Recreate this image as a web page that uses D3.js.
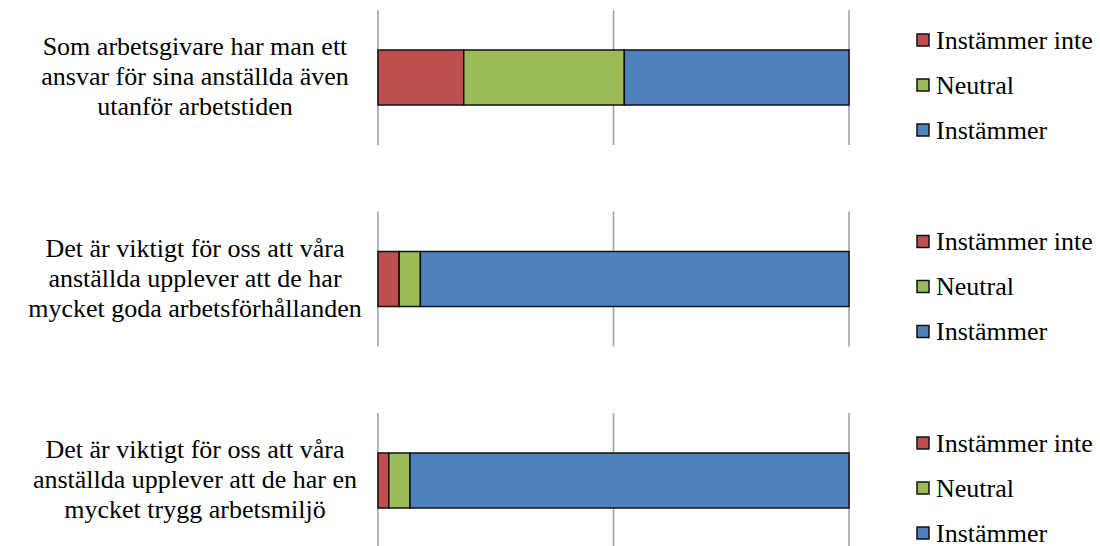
<!DOCTYPE html>
<html>
<head>
<script src="https://cdn.jsdelivr.net/npm/d3@7"></script>
</head>
<body style="margin:0">
<svg id="chart" width="1100" height="546"></svg>
<script>
// Serif faces for all chart text, first available wins
const fontStack = ["Liberation Serif", "Times New Roman", "Tinos", "FreeSerif"];
const fontSize = 26;

// Statements (each split into the lines shown beside its bar)
const questions = ["q1", "q2", "q3"];
const questionLines = [
  ["Som arbetsgivare har man ett", "ansvar för sina anställda även", "utanför arbetstiden"],
  ["Det är viktigt för oss att våra", "anställda upplever att de har", "mycket goda arbetsförhållanden"],
  ["Det är viktigt för oss att våra", "anställda upplever att de har en", "mycket trygg arbetsmiljö"]
];

// Answer categories, in stacking order
const seriesNames = ["Instämmer inte", "Neutral", "Instämmer"];
const seriesColors = ["#C0504D", "#9BBB59", "#4F81BD"];

// Share of answers (%) per statement
const instammerInte = [18.2, 4.5, 2.3];
const neutral = [34.1, 4.5, 4.5];
const instammer = [47.7, 91.0, 93.2];

const gridValues = [0, 50, 100];

const rows = questions.map((q, i) => ({
  q,
  "Instämmer inte": instammerInte[i],
  "Neutral": neutral[i],
  "Instämmer": instammer[i]
}));

const svg = d3.select("#chart");

const x = d3.scaleLinear().domain([0, 100]).range([378, 849]);
const y = d3.scalePoint().domain(questions).range([77.5, 480.5]);
const color = d3.scaleOrdinal().domain(seriesNames).range(seriesColors);

const barH = 55;
const gridHalf = 67.5;
const lineH = 30;
const legendOffsets = [-37.5, 7.5, 52.5];

const fontFor = () => fontStack.map(f => `'${f}'`).join(", ") + ", monospace";

const stacked = d3.stack().keys(seriesNames)(rows);

// vertical gridlines, one set per statement
const gridData = questions.flatMap(q => gridValues.map(v => ({ q, v })));
svg.selectAll("line.grid")
  .data(gridData)
  .join("line")
  .attr("class", "grid")
  .attr("x1", d => x(d.v))
  .attr("x2", d => x(d.v))
  .attr("y1", d => y(d.q) - gridHalf)
  .attr("y2", d => y(d.q) + gridHalf)
  .attr("stroke", "#a3a3a3")
  .attr("stroke-width", 1.6);

// stacked bar segments
const segData = stacked.flatMap(layer => layer.map((d, i) => ({ key: layer.key, q: questions[i], x0: d[0], x1: d[1] })));
svg.selectAll("rect.seg")
  .data(segData)
  .join("rect")
  .attr("class", "seg")
  .attr("x", d => x(d.x0))
  .attr("y", d => y(d.q) - barH / 2)
  .attr("width", d => x(d.x1) - x(d.x0))
  .attr("height", barH)
  .attr("fill", d => color(d.key))
  .attr("stroke", "#111")
  .attr("stroke-width", 1.5);

// statement text, centred beside each bar
const labelData = questions.flatMap((q, i) => questionLines[i].map((t, k, arr) => ({ q, t, k, n: arr.length })));
svg.selectAll("text.label")
  .data(labelData)
  .join("text")
  .attr("class", "label")
  .attr("text-anchor", "middle")
  .attr("font-size", fontSize)
  .style("font-family", fontFor)
  .attr("x", 195)
  .attr("y", d => y(d.q) + (d.k - (d.n - 1) / 2) * lineH + 7.5)
  .text(d => d.t);

// legend beside each bar
const legendData = questions.flatMap(q => seriesNames.map((name, k) => ({ q, name, k })));
svg.selectAll("rect.key")
  .data(legendData)
  .join("rect")
  .attr("class", "key")
  .attr("x", 917)
  .attr("y", d => y(d.q) + legendOffsets[d.k] - 6)
  .attr("width", 12)
  .attr("height", 12)
  .attr("fill", d => color(d.name))
  .attr("stroke", "#111")
  .attr("stroke-width", 1.5);

svg.selectAll("text.keylabel")
  .data(legendData)
  .join("text")
  .attr("class", "keylabel")
  .attr("font-size", fontSize)
  .style("font-family", fontFor)
  .attr("x", 936)
  .attr("y", d => y(d.q) + legendOffsets[d.k] + 8.5)
  .text(d => d.name);
</script>
</body>
</html>
